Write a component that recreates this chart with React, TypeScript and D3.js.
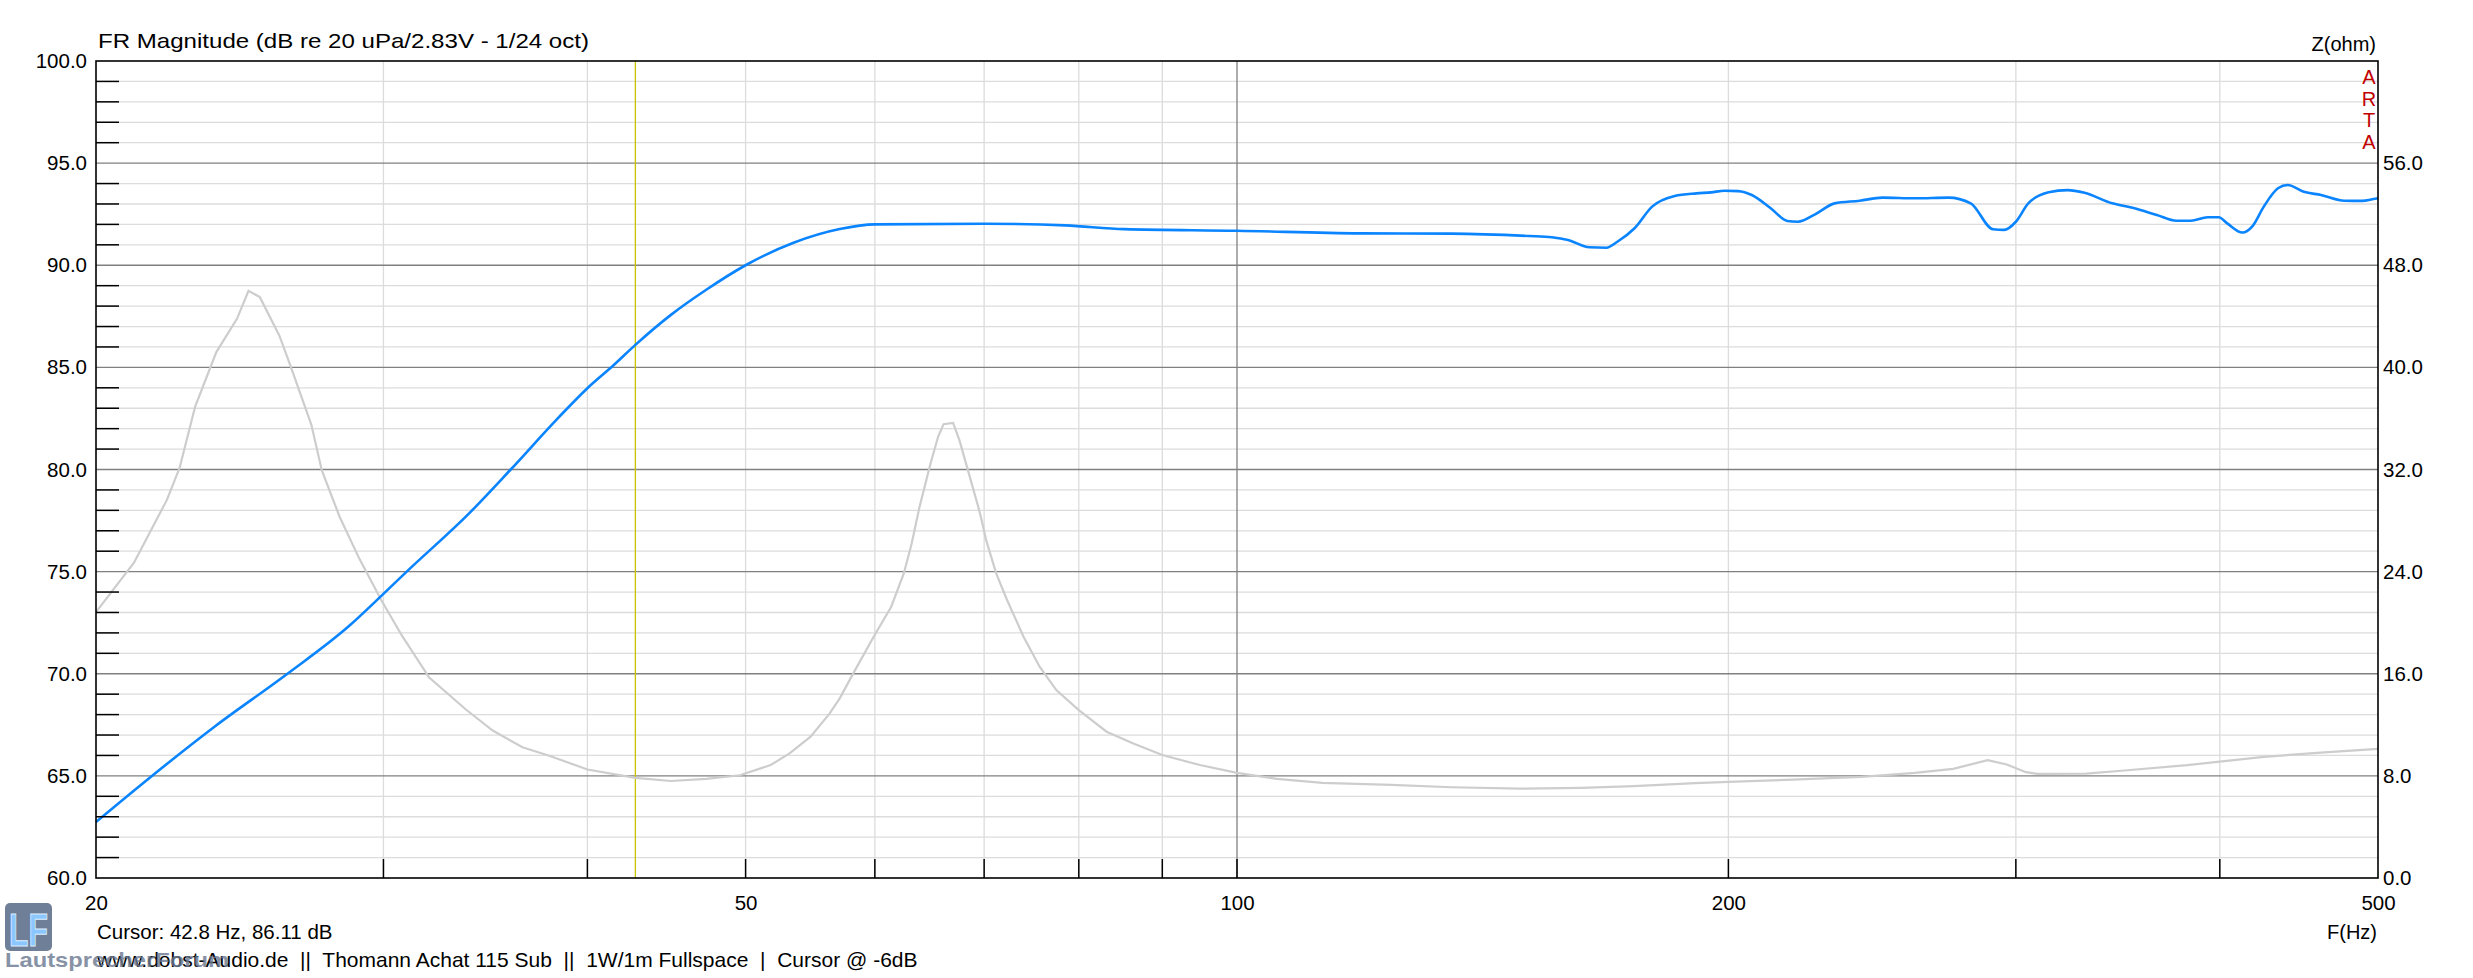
import React, { useEffect, useRef } from "react";
import * as d3 from "d3";

// FR magnitude (blue)
const frFreq = [20, 21.66, 23.66, 26.2, 28.6, 29.9, 31.0, 33.9, 35.9, 38.4, 40, 41.5, 42.8, 45.0, 47.3, 50, 53.5, 57.1, 60, 70, 78.5, 85.3, 100, 118.9, 135.2, 151, 155.9, 159.5, 164.4, 168.4, 171.0, 175.2, 179.6, 185.4, 191.2, 195.2, 198.9, 202.8, 206.7, 212.3, 217.3, 220.6, 226.0, 232.3, 240.7, 248.5, 260.3, 272.8, 281.5, 290.5, 295.1, 300, 305.3, 314.2, 322.7, 330.5, 343.7, 354.7, 366, 376.3, 383.9, 393.2, 399.4, 404.2, 413.0, 418.9, 425.6, 434.2, 440.2, 450.3, 461.4, 476.8, 488.7, 496.9, 500];
const frDb = [62.74, 65.02, 67.43, 70.0, 72.36, 73.8, 75.0, 77.9, 80.0, 82.54, 83.98, 85.1, 86.1, 87.57, 88.8, 90.0, 91.1, 91.77, 92.0, 92.03, 91.95, 91.77, 91.69, 91.56, 91.55, 91.43, 91.37, 91.24, 90.88, 90.86, 91.15, 91.81, 92.87, 93.39, 93.52, 93.57, 93.65, 93.63, 93.44, 92.79, 92.17, 92.13, 92.49, 93.03, 93.16, 93.31, 93.28, 93.31, 93.03, 91.76, 91.73, 92.13, 93.03, 93.57, 93.68, 93.55, 93.03, 92.79, 92.46, 92.18, 92.18, 92.35, 92.35, 92.05, 91.6, 91.92, 92.87, 93.77, 93.93, 93.6, 93.44, 93.16, 93.15, 93.24, 93.28];

// impedance (grey), ohms
const zFreq = [20, 21.1, 22.1, 22.5, 23.0, 23.7, 24.4, 24.8, 25.2, 25.9, 26.3, 27.1, 27.5, 28.2, 29.0, 29.9, 30.8, 32.0, 33.7, 35.0, 36.5, 37.9, 40, 42.8, 45, 47.3, 49.6, 51.8, 53.2, 54.8, 56.3, 57.1, 58.2, 59.9, 61.4, 62.5, 63.2, 63.9, 64.9, 65.6, 66.1, 67.0, 67.6, 68.6, 69.6, 70.2, 71.2, 72.3, 74.0, 75.7, 77.5, 80, 83.2, 86.4, 90, 94.9, 100, 105.8, 112.8, 124.3, 135.4, 149.1, 162.6, 175.0, 190.9, 200, 219.1, 241.3, 260.2, 274.6, 288.3, 296.2, 304.3, 309.3, 331.3, 351.1, 382.0, 400, 425.6, 458.8, 500];
const zOhm = [20.83, 24.7, 29.6, 32.1, 36.9, 41.2, 43.8, 46.0, 45.5, 42.5, 40.2, 35.5, 31.95, 28.3, 25.0, 21.8, 18.96, 15.7, 13.2, 11.55, 10.24, 9.58, 8.5, 7.84, 7.6, 7.77, 8.05, 8.85, 9.76, 11.07, 12.9, 14.07, 16.03, 18.9, 21.25, 23.86, 26.2, 29.07, 32.47, 34.56, 35.55, 35.65, 34.3, 31.42, 28.56, 26.47, 23.86, 21.78, 18.9, 16.55, 14.72, 13.15, 11.46, 10.54, 9.63, 8.85, 8.23, 7.77, 7.45, 7.3, 7.11, 7.0, 7.06, 7.19, 7.43, 7.53, 7.71, 7.92, 8.23, 8.55, 9.23, 8.89, 8.29, 8.16, 8.18, 8.44, 8.84, 9.12, 9.49, 9.8, 10.11];

const dbTicks = [60, 65, 70, 75, 80, 85, 90, 95, 100];
const ohmTicks = [0, 8, 16, 24, 32, 40, 48, 56];
const freqLabels = [20, 50, 100, 200, 500];
const freqGrid = [30, 40, 50, 60, 70, 80, 90, 100, 200, 300, 400];
const cursorFreq = 42.8;
const artaLetters = ["A", "R", "T", "A"];

const FONT = "'Liberation Sans', Arial, sans-serif";

function FrChart() {
  const svgRef = useRef(null);

  useEffect(() => {
    document.body.style.margin = "0";
    const svg = d3.select(svgRef.current);
    svg.selectAll("*").remove();
    const margin = { top: 61, left: 96 };
    const width = 2378 - margin.left;
    const height = 878 - margin.top;

    const x = d3.scaleLog().domain([20, 500]).range([0, width]);
    const y = d3.scaleLinear().domain([60, 100]).range([height, 0]);
    const yz = d3.scaleLinear().domain([0, 64]).range([height, 0]);

    const g = svg
      .append("g")
      .attr("transform", `translate(${margin.left},${margin.top})`);

    // horizontal grid
    const minorDb = d3.range(61, 100).filter((d) => d % 5 !== 0);
    g.selectAll(".hminor")
      .data(minorDb)
      .enter()
      .append("line")
      .attr("x1", 0)
      .attr("x2", width)
      .attr("y1", (d) => y(d))
      .attr("y2", (d) => y(d))
      .attr("stroke", "#dcdcdc")
      .attr("stroke-width", 1.3);

    // vertical grid
    g.selectAll(".vgrid")
      .data(freqGrid)
      .enter()
      .append("line")
      .attr("x1", (d) => x(d))
      .attr("x2", (d) => x(d))
      .attr("y1", 0)
      .attr("y2", height)
      .attr("stroke", (d) => (d === 100 ? "#808080" : "#dcdcdc"))
      .attr("stroke-width", 1.3);

    g.selectAll(".hmajor")
      .data(dbTicks.filter((d) => d > 60 && d < 100))
      .enter()
      .append("line")
      .attr("x1", 0)
      .attr("x2", width)
      .attr("y1", (d) => y(d))
      .attr("y2", (d) => y(d))
      .attr("stroke", "#808080")
      .attr("stroke-width", 1.3);

    // cursor
    g.append("line")
      .attr("x1", x(cursorFreq))
      .attr("x2", x(cursorFreq))
      .attr("y1", 0)
      .attr("y2", height)
      .attr("stroke", "#c8c400")
      .attr("stroke-width", 1.3);

    // curves
    g.append("path")
      .datum(zFreq.map((f, i) => [f, zOhm[i]]))
      .attr("fill", "none")
      .attr("stroke", "#cdcdcd")
      .attr("stroke-width", 2.2)
      .attr("d", d3.line().x((d) => x(d[0])).y((d) => yz(d[1])));

    g.append("path")
      .datum(frFreq.map((f, i) => [f, frDb[i]]))
      .attr("fill", "none")
      .attr("stroke", "#0a84ff")
      .attr("stroke-width", 2.6)
      .attr("d", d3.line().curve(d3.curveMonotoneX).x((d) => x(d[0])).y((d) => y(d[1])));

    // small black ticks
    g.selectAll(".ltick")
      .data(minorDb)
      .enter()
      .append("line")
      .attr("x1", 0)
      .attr("x2", 23)
      .attr("y1", (d) => y(d))
      .attr("y2", (d) => y(d))
      .attr("stroke", "#000")
      .attr("stroke-width", 1.5);

    g.selectAll(".btick")
      .data(freqGrid)
      .enter()
      .append("line")
      .attr("x1", (d) => x(d))
      .attr("x2", (d) => x(d))
      .attr("y1", height)
      .attr("y2", height - 19)
      .attr("stroke", "#000")
      .attr("stroke-width", 1.5);

    // frame
    g.append("rect")
      .attr("width", width)
      .attr("height", height)
      .attr("fill", "none")
      .attr("stroke", "#000")
      .attr("stroke-width", 1.6);

    const styleAxis = (sel) => {
      sel.select(".domain").remove();
      sel.selectAll("line").remove();
      sel.selectAll("text")
        .attr("font-family", FONT)
        .attr("font-size", 20.5)
        .attr("fill", "#000");
    };

    g.append("g")
      .call(d3.axisLeft(y).tickValues(dbTicks).tickFormat(d3.format(".1f")).tickSize(0).tickPadding(9))
      .call(styleAxis);

    g.append("g")
      .attr("transform", `translate(${width},0)`)
      .call(d3.axisRight(yz).tickValues(ohmTicks).tickFormat(d3.format(".1f")).tickSize(0).tickPadding(5))
      .call(styleAxis);

    g.append("g")
      .attr("transform", `translate(0,${height})`)
      .call(d3.axisBottom(x).tickValues(freqLabels).tickFormat(d3.format("d")).tickSize(0).tickPadding(17))
      .call(styleAxis);

    // titles
    svg.append("text")
      .attr("x", 98)
      .attr("y", 48)
      .attr("font-family", FONT)
      .attr("font-size", 21)
      .attr("textLength", 491)
      .attr("lengthAdjust", "spacingAndGlyphs")
      .text("FR Magnitude (dB re 20 uPa/2.83V - 1/24 oct)");

    svg.append("text")
      .attr("x", 2376)
      .attr("y", 51)
      .attr("text-anchor", "end")
      .attr("font-family", FONT)
      .attr("font-size", 20)
      .text("Z(ohm)");

    svg.selectAll(".arta")
      .data(artaLetters)
      .enter()
      .append("text")
      .attr("x", 2369)
      .attr("y", (d, i) => 84 + i * 21.7)
      .attr("text-anchor", "middle")
      .attr("font-family", FONT)
      .attr("font-size", 20)
      .attr("fill", "#c00000")
      .text((d) => d);

    svg.append("text")
      .attr("x", 2377)
      .attr("y", 939)
      .attr("text-anchor", "end")
      .attr("font-family", FONT)
      .attr("font-size", 20)
      .text("F(Hz)");

    svg.append("text")
      .attr("x", 97)
      .attr("y", 939)
      .attr("font-family", FONT)
      .attr("font-size", 20.5)
      .text(`Cursor: ${cursorFreq} Hz, 86.11 dB`);

    svg.append("text")
      .attr("x", 97)
      .attr("y", 967)
      .attr("font-family", FONT)
      .attr("font-size", 21)
      .style("white-space", "pre")
      .text("www.dobst-Audio.de  ||  Thomann Achat 115 Sub  ||  1W/1m Fullspace  |  Cursor @ -6dB");

    // logo
    svg.append("rect")
      .attr("x", 5)
      .attr("y", 903)
      .attr("width", 47)
      .attr("height", 48)
      .attr("rx", 5)
      .attr("fill", "#6f7f98");

    svg.append("text")
      .attr("x", 9)
      .attr("y", 946)
      .attr("font-family", FONT)
      .attr("font-weight", "bold")
      .attr("font-size", 46)
      .attr("textLength", 39)
      .attr("lengthAdjust", "spacingAndGlyphs")
      .attr("fill", "#8cc6ff")
      .attr("stroke", "#dbeeff")
      .attr("stroke-width", 1)
      .text("LF");

    svg.append("text")
      .attr("x", 5)
      .attr("y", 967)
      .attr("font-family", FONT)
      .attr("font-weight", "bold")
      .attr("font-size", 21)
      .attr("textLength", 224)
      .attr("lengthAdjust", "spacingAndGlyphs")
      .attr("fill", "#6a7890")
      .attr("opacity", 0.8)
      .text("LautsprecherForum");
  }, []);

  return <svg ref={svgRef} width="2473" height="978" style={{ display: "block", background: "#fff" }}></svg>;
}

export default function App() {
  return <FrChart />;
}
